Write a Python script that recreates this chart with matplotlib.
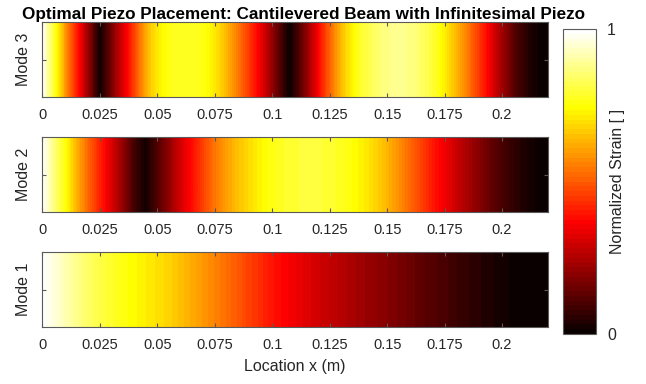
import numpy as np
import matplotlib
matplotlib.use("Agg")
import matplotlib.pyplot as plt

plt.rcParams['font.family'] = ['Liberation Sans', 'DejaVu Sans']

# Normalized strain along the beam for each mode
x_coarse = [0.000, 0.005, 0.010, 0.015, 0.020, 0.025, 0.030, 0.035, 0.040, 0.045,
            0.050, 0.055, 0.060, 0.065, 0.070, 0.075, 0.080, 0.085, 0.090, 0.095,
            0.100, 0.105, 0.110, 0.115, 0.120, 0.125, 0.130, 0.135, 0.140, 0.145,
            0.150, 0.155, 0.160, 0.165, 0.170, 0.175, 0.180, 0.185, 0.190, 0.195,
            0.200, 0.205, 0.210, 0.215, 0.220]

mode1_strain = [1.00, 0.96, 0.92, 0.88, 0.84, 0.81, 0.785, 0.76, 0.74, 0.72,
                0.70, 0.68, 0.65, 0.62, 0.59, 0.56, 0.53, 0.50, 0.46, 0.43,
                0.395, 0.37, 0.345, 0.32, 0.30, 0.28, 0.26, 0.24, 0.22, 0.205,
                0.19, 0.17, 0.15, 0.13, 0.115, 0.10, 0.08, 0.065, 0.05, 0.035,
                0.022, 0.012, 0.005, 0.001, 0.0]

mode2_strain = [1.00, 0.87, 0.76, 0.63, 0.52, 0.42, 0.32, 0.21, 0.09, 0.02,
                0.11, 0.20, 0.30, 0.38, 0.46, 0.54, 0.60, 0.65, 0.69, 0.73,
                0.76, 0.78, 0.795, 0.80, 0.80, 0.79, 0.775, 0.75, 0.72, 0.68,
                0.635, 0.58, 0.52, 0.46, 0.40, 0.35, 0.29, 0.24, 0.19, 0.14,
                0.10, 0.065, 0.035, 0.012, 0.0]

x_fine = [0.0000, 0.0025, 0.0050, 0.0075, 0.0100, 0.0125, 0.0150, 0.0175, 0.0200, 0.0225,
          0.0250, 0.0275, 0.0300, 0.0325, 0.0350, 0.0375, 0.0400, 0.0425, 0.0450, 0.0475,
          0.0500, 0.0525, 0.0550, 0.0575, 0.0600, 0.0625, 0.0650, 0.0675, 0.0700, 0.0725,
          0.0750, 0.0775, 0.0800, 0.0825, 0.0850, 0.0875, 0.0900, 0.0925, 0.0950, 0.0975,
          0.1000, 0.1025, 0.1050, 0.1075, 0.1100, 0.1125, 0.1150, 0.1175, 0.1200, 0.1225,
          0.1250, 0.1275, 0.1300, 0.1325, 0.1350, 0.1375, 0.1400, 0.1425, 0.1450, 0.1475,
          0.1500, 0.1525, 0.1550, 0.1575, 0.1600, 0.1625, 0.1650, 0.1675, 0.1700, 0.1725,
          0.1750, 0.1775, 0.1800, 0.1825, 0.1850, 0.1875, 0.1900, 0.1925, 0.1950, 0.1975,
          0.2000, 0.2025, 0.2050, 0.2075, 0.2100, 0.2125, 0.2150, 0.2175, 0.2200]

mode3_strain = [1.00, 0.90, 0.80, 0.70, 0.60, 0.50, 0.41, 0.32, 0.22, 0.12,
                0.02, 0.08, 0.16, 0.24, 0.31, 0.38, 0.46, 0.54, 0.61, 0.67,
                0.71, 0.74, 0.76, 0.77, 0.78, 0.78, 0.78, 0.77, 0.76, 0.74,
                0.71, 0.68, 0.64, 0.60, 0.55, 0.50, 0.45, 0.40, 0.34, 0.28,
                0.21, 0.14, 0.07, 0.01, 0.06, 0.13, 0.20, 0.28, 0.36, 0.44,
                0.51, 0.58, 0.64, 0.69, 0.73, 0.77, 0.80, 0.82, 0.84, 0.86,
                0.87, 0.88, 0.88, 0.88, 0.87, 0.86, 0.84, 0.82, 0.79, 0.76,
                0.72, 0.68, 0.64, 0.60, 0.55, 0.50, 0.45, 0.40, 0.34, 0.28,
                0.23, 0.18, 0.13, 0.09, 0.06, 0.035, 0.018, 0.006, 0.0]

x_ticks = [0, 0.025, 0.05, 0.075, 0.1, 0.125, 0.15, 0.175, 0.2]
x_tick_labels = ['0', '0.025', '0.05', '0.075', '0.1', '0.125', '0.15', '0.175', '0.2']
beam_length = 0.22

modes = [
    ("Mode 3", x_fine, mode3_strain),
    ("Mode 2", x_coarse, mode2_strain),
    ("Mode 1", x_coarse, mode1_strain),
]

W, H = 646, 384
fig = plt.figure(figsize=(W / 100, H / 100), dpi=100)

cmap = plt.get_cmap('hot', 64)
text_col = '#262626'
spine_col = '#5a5a5a'

ax_left, ax_right = 42.4, 548.0
panel_px = [(22.0, 97.0), (137.0, 212.0), (251.7, 327.3)]

img = None
for (label, xs, vals), (top, bot) in zip(modes, panel_px):
    ax = fig.add_axes([ax_left / W, 1 - bot / H, (ax_right - ax_left) / W, (bot - top) / H])
    xs = np.asarray(xs)
    dx = xs[1] - xs[0]
    data = np.vstack([vals, vals])
    img = ax.imshow(data, cmap=cmap, vmin=0, vmax=1, aspect='auto',
                    interpolation='bilinear', interpolation_stage='data',
                    extent=[xs[0] - dx / 2, xs[-1] + dx / 2, 0, 1], origin='lower')
    ax.set_xlim(0, beam_length)
    ax.set_ylim(0, 1)
    ax.set_xticks(x_ticks)
    ax.set_xticklabels(x_tick_labels)
    ax.set_yticks([0.5])
    ax.set_yticklabels([])
    ax.tick_params(axis='both', direction='in', length=3, width=0.8, color=spine_col,
                   top=True, right=True, labelsize=10.5, labelcolor=text_col)
    ax.tick_params(axis='x', pad=8)
    for s in ax.spines.values():
        s.set_color(spine_col)
        s.set_linewidth(0.8)
    ax.set_ylabel(label, fontsize=11.5, color=text_col, labelpad=5)
    if label == "Mode 1":
        ax.set_xlabel("Location x (m)", fontsize=11.5, color=text_col, labelpad=5)

fig.text(304 / W, 1 - 19.5 / H,
         "Optimal Piezo Placement: Cantilevered Beam with Infinitesimal Piezo",
         ha='center', va='baseline', fontsize=12.3, fontweight='bold', color='black')

cax = fig.add_axes([563.3 / W, 1 - 334 / H, 32.7 / W, 305 / H])
cb = fig.colorbar(img, cax=cax, ticks=[0, 1])
cb.ax.set_yticklabels(['0', '1'])
cb.ax.tick_params(direction='in', length=0, labelsize=11.5, labelcolor=text_col, pad=8)
cb.outline.set_edgecolor(spine_col)
cb.outline.set_linewidth(0.8)
cb.set_label("Normalized Strain [ ]", fontsize=11.5, color=text_col, labelpad=-4)

fig.savefig("out.png", dpi=100)
